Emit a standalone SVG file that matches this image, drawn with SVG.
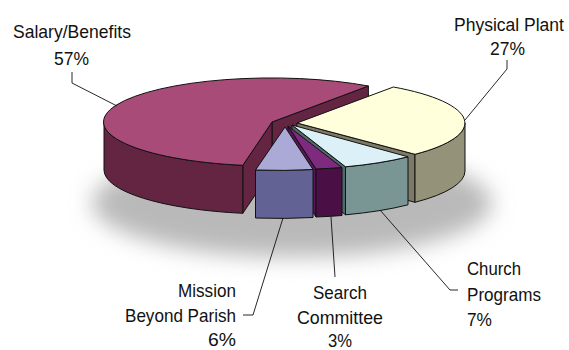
<svg xmlns="http://www.w3.org/2000/svg" width="569" height="350" viewBox="0 0 569 350">
  <defs>
    <filter id="blur" x="-30%" y="-60%" width="160%" height="220%">
      <feGaussianBlur stdDeviation="11"/>
    </filter>
  </defs>
  <style>
    .f { stroke: #111; stroke-width: 1; stroke-linejoin: round; }
    .lbl { font-family: "Liberation Sans", Arial, sans-serif; font-size: 19px; fill: #111; }
    .lead { fill: none; stroke: #111; stroke-width: 0.9; }
    .salTop { fill: #a94b78; } .salSide { fill: #632542; }
    .ppTop { fill: #ffffdb; } .ppSide { fill: #95927a; } .ppFace { fill: #7c7a66; }
    .chTop { fill: #dbf0f7; } .chSide { fill: #799694; } .chFace { fill: #4e6b6a; }
    .seTop { fill: #7e2a7e; } .seSide { fill: #4a0f44; } .seFace { fill: #5a1556; }
    .miTop { fill: #aba9d6; } .miSide { fill: #626295; }
  </style>

  <rect width="569" height="350" fill="#ffffff"/>

  <!-- shadow -->
  <ellipse cx="292" cy="203" rx="200" ry="54" fill="#b9b9b9" filter="url(#blur)"/>

  <!-- Salary/Benefits slice -->
  <g id="salary">
    <path class="f salSide" d="M272,122 L368.4,86 L368.4,134 L272,170 Z"/>
    <path class="f salSide" d="M272,122 L242.8,165.3 L242.8,213.3 L272,170 Z"/>
    <path class="f salSide" d="M242.8,165.3 A168,44 0 0 1 104,122 L104,170 A168,44 0 0 0 242.8,213.3 Z"/>
    <path class="f salTop" d="M272,122 L242.8,165.3 A168,44 0 1 1 368.4,86 Z"/>
  </g>

  <!-- Physical Plant slice -->
  <g id="physical-plant">
    <path class="f ppFace" d="M297,123 L415,154.3 L415,202.3 L297,171 Z"/>
    <path class="f ppSide" d="M465,123 A168,44 0 0 1 415,154.3 L415,202.3 A168,44 0 0 0 465,171 Z"/>
    <path class="f ppTop" d="M297,123 L393.4,87 A168,44 0 0 1 415,154.3 Z"/>
  </g>

  <!-- Church Programs slice -->
  <g id="church-programs">
    <path class="f chFace" d="M292,125 L345.5,166.8 L345.5,214.8 L292,173 Z"/>
    <path class="f chSide" d="M408,156.8 A168,44 0 0 1 345.5,166.8 L345.5,214.8 A168,44 0 0 0 408,204.8 Z"/>
    <path class="f chTop" d="M292,125 L408,156.8 A168,44 0 0 1 345.5,166.8 Z"/>
  </g>

  <!-- Search Committee slice -->
  <g id="search-committee">
    <path class="f seFace" d="M288,126 L316,169 L316,217 L288,174 Z"/>
    <path class="f seSide" d="M342,167.5 A168,44 0 0 1 316,169 L316,217 A168,44 0 0 0 342,215.5 Z"/>
    <path class="f seTop" d="M288,126 L342,167.5 A168,44 0 0 1 316,169 Z"/>
  </g>

  <!-- Mission Beyond Parish slice -->
  <g id="mission">
    <path class="f miSide" d="M313,169.5 A168,44 0 0 1 255.5,170 L255.5,218 A168,44 0 0 0 313,217.5 Z"/>
    <path class="f miTop" d="M285,127 L313,169.5 A168,44 0 0 1 255.5,170 Z"/>
  </g>

  <!-- leader lines -->
  <g id="connectors">
    <path class="lead" d="M72,72 L72,83 L117,106"/>
    <path class="lead" d="M507,60 L507,69 L465,120"/>
    <path class="lead" d="M283,218 L253,315 L243,315"/>
    <path class="lead" d="M331,217 L335,277"/>
    <path class="lead" d="M380,210 L450,290 L458,290"/>
  </g>

  <!-- labels -->
  <g id="label-salary">
    <text class="lbl" x="13" y="38" textLength="118" lengthAdjust="spacingAndGlyphs">Salary/Benefits</text>
    <text class="lbl" x="54" y="65" textLength="35" lengthAdjust="spacingAndGlyphs">57%</text>
  </g>
  <g id="label-physical-plant">
    <text class="lbl" x="454" y="31" style="font-size:17.5px">Physical Plant</text>
    <text class="lbl" x="490" y="55" textLength="35" lengthAdjust="spacingAndGlyphs">27%</text>
  </g>
  <g id="label-mission">
    <text class="lbl" x="178" y="297" textLength="58" lengthAdjust="spacingAndGlyphs">Mission</text>
    <text class="lbl" x="125" y="322" textLength="111" lengthAdjust="spacingAndGlyphs">Beyond Parish</text>
    <text class="lbl" x="208" y="346" textLength="28" lengthAdjust="spacingAndGlyphs">6%</text>
  </g>
  <g id="label-search">
    <text class="lbl" x="313" y="299" textLength="54" lengthAdjust="spacingAndGlyphs">Search</text>
    <text class="lbl" x="297" y="324" textLength="86" lengthAdjust="spacingAndGlyphs">Committee</text>
    <text class="lbl" x="328" y="347" textLength="24" lengthAdjust="spacingAndGlyphs">3%</text>
  </g>
  <g id="label-church">
    <text class="lbl" x="467" y="275" textLength="54" lengthAdjust="spacingAndGlyphs">Church</text>
    <text class="lbl" x="467" y="301" textLength="74" lengthAdjust="spacingAndGlyphs">Programs</text>
    <text class="lbl" x="467" y="326" textLength="25" lengthAdjust="spacingAndGlyphs">7%</text>
  </g>
</svg>
